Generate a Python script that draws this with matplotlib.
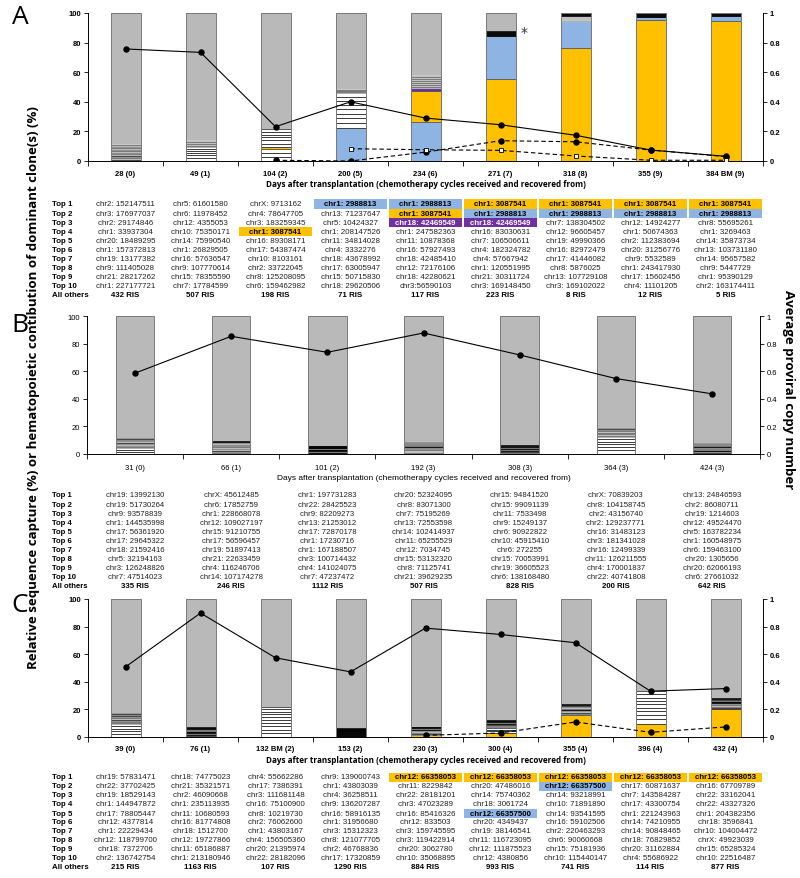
import numpy as np
import matplotlib
matplotlib.use("Agg")
import matplotlib.pyplot as plt
from matplotlib.transforms import blended_transform_factory
from matplotlib.patches import Rectangle

# ---------------- data: panel A ----------------
A_days = ["28 (0)", "49 (1)", "104 (2)", "200 (5)", "234 (6)", "271 (7)", "318 (8)", "355 (9)", "384 BM (9)"]
# top-10 clone contributions (%), bottom (top 1) to top (top 10)
A_seg = [
    [1.5, 1.3, 1.2, 1.1, 1.1, 1.0, 1.0, 1.0, 1.0, 1.0],
    [2.0, 1.8, 1.6, 1.5, 1.4, 1.3, 1.3, 1.2, 1.2, 1.1],
    [3.0, 2.6, 2.4, 1.6, 2.2, 2.1, 2.0, 1.9, 1.9, 1.8],
    [22.2, 3.4, 3.2, 3.1, 3.0, 2.9, 2.8, 2.8, 2.7, 2.7],
    [26.3, 20.9, 2.2, 1.5, 1.4, 1.3, 1.2, 1.2, 1.1, 1.1],
    [55.5, 29.2, 2.9, 0, 0, 0, 0, 0, 0, 0],
    [76.6, 18.2, 0.6, 0.5, 0.5, 0.5, 0.5, 0.4, 0.4, 1.8],
    [95.3, 2.2, 0, 0, 0, 0, 0, 0, 0, 2.5],
    [94.4, 3.8, 0, 0, 0, 0, 0, 0, 0, 1.8],
]
A_code = ["dgdgdgdgdg", "wwwwwwgggg", "wwwywwwwww", "bwwwwwwwwg", "bypggggggg",
          "ybkggggggg", "ybgggggggk", "ybgggggggk", "ybgggggggk"]
A_vcn = [0.757, 0.734, 0.232, 0.40, 0.29, 0.245, 0.174, 0.074, 0.032]
A_dash_dot = [np.nan, np.nan, 0.005, 0.0, 0.06, 0.137, 0.13, 0.074, 0.03]
A_dash_sq = [np.nan, np.nan, np.nan, 0.083, 0.076, 0.072, 0.034, 0.005, 0.005]
A_tab = [
    ["chr2: 152147511", "chr3: 176977037", "chr2: 29174846", "chr1: 33937304", "chr20: 18489295",
     "chr1: 157372813", "chr19: 13177382", "chr9: 111405028", "chr21: 28217262", "chr1: 227177721"],
    ["chr5: 61601580", "chr6: 11978452", "chr12: 4355053", "chr10: 75350171", "chr14: 75990540",
     "chr1: 26829505", "chr16: 57636547", "chr9: 107770614", "chr15: 78355590", "chr7: 17784599"],
    ["chrX: 9713162", "chr4: 78647705", "chr3: 183259345", "chr1: 3087541", "chr16: 89308171",
     "chr17: 54387474", "chr10: 8103161", "chr2: 33722045", "chr8: 125208095", "chr6: 159462982"],
    ["chr1: 2988813", "chr13: 71237647", "chr5: 10424327", "chr1: 208147526", "chr11: 34814028",
     "chr4: 3332276", "chr18: 43678992", "chr17: 63005947", "chr15: 50715830", "chr18: 29620506"],
    ["chr1: 2988813", "chr1: 3087541", "chr18: 42469549", "chr1: 247582363", "chr11: 10878368",
     "chr16: 57927493", "chr18: 42485410", "chr12: 72176106", "chr18: 42280621", "chr3:56590103"],
    ["chr1: 3087541", "chr1: 2988813", "chr18: 42469549", "chr16: 83030631", "chr7: 106506611",
     "chr4: 182324782", "chr4: 57667942", "chr1: 120551995", "chr21: 30311724", "chr3: 169148450"],
    ["chr1: 3087541", "chr1: 2988813", "chr7: 138304502", "chr12: 96605457", "chr19: 49990366",
     "chr16: 82972479", "chr17: 41446082", "chr8: 5876025", "chr13: 107729108", "chr3: 169102022"],
    ["chr1: 3087541", "chr1: 2988813", "chr12: 14924277", "chr1: 50674363", "chr2: 112383694",
     "chr20: 31256776", "chr9: 5532589", "chr1: 243417930", "chr17: 15602456", "chr4: 11101205"],
    ["chr1: 3087541", "chr1: 2988813", "chr8: 55695261", "chr1: 3269463", "chr14: 35873734",
     "chr13: 103731180", "chr14: 95657582", "chr9: 5447729", "chr1: 95390129", "chr2: 163174411"],
]
A_others = ["432 RIS", "507 RIS", "198 RIS", "71 RIS", "117 RIS", "223 RIS", "8 RIS", "12 RIS", "5 RIS"]
A_hl = {(0, 3): "b", (0, 4): "b", (0, 5): "y", (0, 6): "y", (0, 7): "y", (0, 8): "y",
        (1, 4): "y", (1, 5): "b", (1, 6): "b", (1, 7): "b", (1, 8): "b",
        (2, 4): "p", (2, 5): "p", (3, 2): "y"}

# ---------------- data: panel B ----------------
B_days = ["31 (0)", "66 (1)", "101 (2)", "192 (3)", "308 (3)", "364 (3)", "424 (3)"]
B_seg = [
    [1.6, 1.4, 1.3, 1.2, 1.1, 1.0, 1.0, 0.9, 0.9, 0.9],
    [1.4, 1.2, 1.1, 1.0, 0.9, 0.8, 0.8, 0.8, 0.7, 0.7],
    [1.0, 0.8, 0.7, 0.6, 0.6, 0.5, 0.5, 0.5, 0.4, 0.4],
    [1.3, 1.1, 1.0, 0.9, 0.8, 0.8, 0.7, 0.6, 0.6, 0.6],
    [1.0, 0.9, 0.8, 0.7, 0.6, 0.6, 0.5, 0.5, 0.5, 0.4],
    [2.6, 2.3, 2.1, 1.9, 1.8, 1.7, 1.7, 1.6, 1.6, 1.5],
    [1.2, 1.0, 0.9, 0.8, 0.8, 0.7, 0.6, 0.6, 0.6, 0.5],
]
B_code = ["wwwgdgdgdd", "gdgdgddgdk", "dkdkkdkkkk", "gggddkdddd", "kdkdkkdkdk",
          "wwwwwwgggd", "ddkdddkddd"]
B_vcn = [0.586, 0.853, 0.737, 0.877, 0.718, 0.547, 0.436]
B_tab = [
    ["chr19: 13992130", "chr19: 51730264", "chr9: 93578839", "chr1: 144535998", "chr17: 56361920",
     "chr17: 29645322", "chr18: 21592416", "chr5: 32194163", "chr3: 126248826", "chr7: 47514023"],
    ["chrX: 45612485", "chr6: 17852759", "chr1: 228668078", "chr12: 109027197", "chr15: 91210755",
     "chr17: 56596457", "chr19: 51897413", "chr21: 22633459", "chr4: 116246706", "chr14: 107174278"],
    ["chr1: 197731283", "chr22: 28425523", "chr9: 82209273", "chr13: 21253012", "chr17: 72870178",
     "chr1: 17230716", "chr1: 167188507", "chr3: 100714432", "chr4: 141024075", "chr7: 47237472"],
    ["chr20: 52324095", "chr8: 83071300", "chr7: 75195269", "chr13: 72553598", "chr14: 102414937",
     "chr11: 65255529", "chr12: 7034745", "chr15: 53132320", "chr8: 71125741", "chr21: 39629235"],
    ["chr15: 94841520", "chr15: 99091139", "chr11: 7533498", "chr9: 15249137", "chr6: 90922822",
     "chr10: 45915410", "chr6: 272255", "chr15: 70053991", "chr19: 36605523", "chr6: 138168480"],
    ["chrX: 70839203", "chr8: 104158745", "chr2: 43156740", "chr2: 129237771", "chr16: 31483123",
     "chr3: 181341028", "chr16: 12499339", "chr11: 126211555", "chr4: 170001837", "chr22: 40741808"],
    ["chr13: 24846593", "chr2: 86080711", "chr19: 1214603", "chr12: 49524470", "chr5: 163782234",
     "chr1: 160548975", "chr6: 159463100", "chr20: 1305656", "chr20: 62066193", "chr6: 27661032"],
]
B_others = ["335 RIS", "246 RIS", "1112 RIS", "507 RIS", "828 RIS", "200 RIS", "642 RIS"]

# ---------------- data: panel C ----------------
C_days = ["39 (0)", "76 (1)", "132 BM (2)", "153 (2)", "230 (3)", "300 (4)", "355 (4)", "396 (4)", "432 (4)"]
C_seg = [
    [2.2, 2.0, 1.9, 1.8, 1.8, 1.6, 1.6, 1.5, 1.4, 1.4],
    [1.1, 0.9, 0.8, 0.7, 0.7, 0.6, 0.6, 0.6, 0.5, 0.5],
    [2.8, 2.6, 2.4, 2.3, 2.2, 2.1, 2.0, 1.9, 1.9, 1.8],
    [1.0, 0.9, 0.8, 0.7, 0.6, 0.6, 0.5, 0.4, 0.4, 0.4],
    [1.2, 1.0, 0.9, 0.8, 0.8, 0.7, 0.6, 0.6, 0.5, 0.4],
    [3.1, 1.2, 1.1, 1.0, 0.8, 1.0, 1.0, 1.0, 0.9, 1.0],
    [15.7, 1.2, 1.0, 0.9, 0.9, 0.8, 0.8, 0.8, 0.8, 0.8],
    [9.7, 3.2, 2.9, 2.7, 2.6, 2.5, 2.5, 2.4, 2.3, 2.6],
    [20.1, 0.9, 1.0, 0.8, 0.8, 0.9, 1.0, 0.8, 0.9, 0.8],
]
C_code = ["wwwwwgdgdd", "dkdkkdkdkk", "wwwwwwwwww", "kkkkkkkkkk", "ydwdgdkdkk",
          "ywwwbddkdk", "ybdgdkdgdk", "ywwwwwwwww", "ywwdgdkkdk"]
C_vcn = [0.508, 0.898, 0.574, 0.472, 0.789, 0.743, 0.683, 0.332, 0.351]
C_dash_dot = [np.nan, np.nan, np.nan, np.nan, 0.012, 0.029, 0.109, 0.034, 0.073]
C_tab = [
    ["chr19: 57831471", "chr22: 37702425", "chr19: 18529143", "chr1: 144947872", "chr17: 78805447",
     "chr12: 4377814", "chr1: 22229434", "chr12: 118799700", "chr18: 7372706", "chr2: 136742754"],
    ["chr18: 74775023", "chr21: 35321571", "chr2: 46090668", "chr1: 235113935", "chr11: 10680593",
     "chr16: 81774808", "chr18: 1512700", "chr12: 19727866", "chr11: 65186887", "chr1: 213180946"],
    ["chr4: 55662286", "chr17: 7386391", "chr3: 111681148", "chr16: 75100900", "chr8: 10219730",
     "chr2: 76062600", "chr1: 43803167", "chr4: 156505360", "chr20: 21395974", "chr22: 28182096"],
    ["chr9: 139000743", "chr1: 43803039", "chr4: 36258511", "chr9: 136207287", "chr16: 58916135",
     "chr1: 31956680", "chr3: 15312323", "chr8: 121077705", "chr2: 46768836", "chr17: 17320859"],
    ["chr12: 66358053", "chr11: 8229842", "chr22: 28181201", "chr3: 47023289", "chr16: 85416326",
     "chr12: 833503", "chr3: 159745595", "chr3: 119422914", "chr20: 3062780", "chr10: 35068895"],
    ["chr12: 66358053", "chr20: 47486016", "chr14: 75740362", "chr18: 3061724", "chr12: 66357500",
     "chr20: 4349437", "chr19: 38146541", "chr11: 116723095", "chr12: 111875523", "chr12: 4380856"],
    ["chr12: 66358053", "chr12: 66357500", "chr14: 93218991", "chr10: 71891890", "chr14: 93541595",
     "chr16: 59102506", "chr2: 220463293", "chr6: 90060668", "chr15: 75181936", "chr10: 115440147"],
    ["chr12: 66358053", "chr17: 60871637", "chr7: 143584287", "chr17: 43300754", "chr1: 221243963",
     "chr14: 74210955", "chr14: 90848465", "chr18: 76829852", "chr20: 31162884", "chr4: 55686922"],
    ["chr12: 66358053", "chr16: 67709789", "chr22: 33162041", "chr22: 43327326", "chr1: 204382356",
     "chr18: 3596841", "chr10: 104004472", "chrX: 49923039", "chr15: 65285324", "chr10: 22516487"],
]
C_others = ["215 RIS", "1163 RIS", "107 RIS", "1290 RIS", "884 RIS", "993 RIS", "741 RIS", "114 RIS", "877 RIS"]
C_hl = {(0, 4): "y", (0, 5): "y", (0, 6): "y", (0, 7): "y", (0, 8): "y", (4, 5): "b", (1, 6): "b"}

ROW_NAMES = ["Top 1", "Top 2", "Top 3", "Top 4", "Top 5", "Top 6", "Top 7", "Top 8", "Top 9", "Top 10", "All others"]
XLABEL = "Days after transplantation (chemotherapy cycles received and recovered from)"

# ---------------- style ----------------
FILL = {"w": "white", "g": "#7a7a7a", "d": "#484848", "k": "#0a0a0a",
        "y": "#ffc000", "b": "#8db4e2", "p": "#7030a0"}
EDGE = {"w": "#111111", "g": "#d0d0d0", "d": "#959595", "k": "#000000",
        "y": "#505050", "b": "#505050", "p": "#505050"}
OTHERS = "#b9b9b9"
ARIAL = ["Liberation Sans", "DejaVu Sans"]
TITLEF = ["Open Sans", "DejaVu Sans"]

W, H = 800, 879
fig = plt.figure(figsize=(W / 100, H / 100), dpi=100)


def fy(py):
    return 1 - py / H


def panel(x0, x1, y0, y1, segs, codes, days, bold, tick_y, xlab_y, xlab_font, xlab_size):
    ax = fig.add_axes([x0 / W, fy(y1), (x1 - x0) / W, (y1 - y0) / H])
    wt = "bold" if bold else "normal"
    n = len(segs)
    for i in range(n):
        b = 0.0
        for h, c in zip(segs[i], codes[i]):
            if h > 0:
                ax.bar(i, h, bottom=b, width=0.4, color=FILL[c], edgecolor=EDGE[c], linewidth=0.5, zorder=2)
            b += h
        if b < 100:
            ax.bar(i, 100 - b, bottom=b, width=0.4, color=OTHERS, edgecolor="none", zorder=2)
        ax.bar(i, 100, width=0.4, fill=False, edgecolor="#7a7a7a", linewidth=0.7, zorder=3)
    ax.set_xlim(-0.5, n - 0.5)
    ax.set_ylim(0, 100)
    ax.set_yticks([0, 20, 40, 60, 80, 100])
    ax.set_yticklabels(["0", "20", "40", "60", "80", "100"], fontsize=5.5, fontweight=wt, family=ARIAL)
    ax.set_xticks([])
    ax.set_xticks(np.arange(n + 1) - 0.5, minor=True)
    ax.tick_params(axis="x", which="minor", length=3.5, width=0.6)
    ax.tick_params(axis="y", length=3, width=0.6, pad=2)
    for s in ["top", "right"]:
        ax.spines[s].set_visible(False)
    ax.spines["left"].set_linewidth(0.7)
    ax.spines["bottom"].set_linewidth(0.7)
    tr = blended_transform_factory(ax.transData, fig.transFigure)
    for i, d in enumerate(days):
        ax.text(i, fy(tick_y), d, transform=tr, ha="center", va="center", fontsize=5.5,
                fontweight=wt, family=ARIAL)
    ax.text((n - 1) / 2, fy(xlab_y), XLABEL, transform=tr, ha="center", va="center",
            fontsize=xlab_size, fontweight=wt, family=xlab_font)
    ax2 = ax.twinx()
    ax2.set_ylim(0, 1)
    ax2.set_yticks([0, 0.2, 0.4, 0.6, 0.8, 1])
    ax2.set_yticklabels(["0", "0.2", "0.4", "0.6", "0.8", "1"], fontsize=5.5, fontweight=wt, family=ARIAL)
    ax2.tick_params(axis="y", length=3, width=0.6, pad=2)
    for s in ["top", "left", "bottom"]:
        ax2.spines[s].set_visible(False)
    ax2.spines["right"].set_linewidth(0.7)
    return ax, ax2, tr


def table(ax, tr, cols, others, hl, y_top, step, size, label_x):
    for r, name in enumerate(ROW_NAMES):
        fig.text(label_x / W, fy(y_top + r * step), name, ha="left", va="center",
                 fontsize=size, fontweight="bold", family=ARIAL)
    for c, col in enumerate(cols):
        for r, s in enumerate(col):
            y = y_top + r * step
            code = hl.get((r, c))
            if code:
                ax.add_patch(Rectangle((c - 0.49, fy(y + step / 2)), 0.98, step / H,
                                       transform=tr, facecolor=FILL[code], edgecolor="none",
                                       clip_on=False, zorder=0))
                ax.text(c, fy(y), s, transform=tr, ha="center", va="center", fontsize=size,
                        fontweight="bold", color="white" if code == "p" else "black",
                        family=ARIAL, clip_on=False)
            else:
                ax.text(c, fy(y), s, transform=tr, ha="center", va="center", fontsize=size,
                        color="#222222", family=ARIAL, clip_on=False)
        ax.text(c, fy(y_top + 10 * step), others[c], transform=tr, ha="center", va="center",
                fontsize=size, fontweight="bold", family=ARIAL, clip_on=False)


# ---- panel A ----
axA, axA2, trA = panel(88, 763, 14, 162, A_seg, A_code, A_days, True, 174, 184.5, TITLEF, 5.9)
xA = np.arange(len(A_days))
axA2.plot(xA, A_vcn, color="black", lw=0.8, marker="o", ms=3.6, zorder=5)
axA2.plot(xA, A_dash_dot, color="black", lw=0.8, ls=(0, (4, 2.5)), marker="o", ms=3.6, zorder=5)
axA2.plot(xA, A_dash_sq, color="black", lw=0.8, ls=(0, (4, 2.5)), marker="s", ms=3.4,
          mfc="white", mec="black", mew=0.6, zorder=5)
axA.text(5.27, 87.5, "*", fontsize=10, ha="left", va="center", color="#333333")

# ---- panel B ----
axB, axB2, trB = panel(87, 760, 317, 455, B_seg, B_code, B_days, False, 468, 478.5, ARIAL, 6.0)
xB = np.arange(len(B_days))
axB2.plot(xB, B_vcn, color="black", lw=0.8, marker="o", ms=3.6, zorder=5)

# ---- panel C ----
axC, axC2, trC = panel(88, 763, 600, 738, C_seg, C_code, C_days, True, 749.5, 760.5, TITLEF, 5.9)
xC = np.arange(len(C_days))
axC2.plot(xC, C_vcn, color="black", lw=0.8, marker="o", ms=3.6, zorder=5)
axC2.plot(xC, C_dash_dot, color="black", lw=0.8, ls=(0, (4, 2.5)), marker="o", ms=3.6, zorder=5)

# ---- tables ----
table(axA, trA, A_tab, A_others, A_hl, 205, 9.1, 5.7, 52)
table(axB, trB, B_tab, B_others, {}, 496, 9.1, 5.6, 52)
table(axC, trC, C_tab, C_others, C_hl, 778, 9.0, 5.7, 52)

# ---- shared labels ----
fig.text(34 / W, fy(388), "Relative sequence capture (%) or hematopoietic contibution of dominant clone(s) (%)",
         rotation=90, ha="center", va="center", fontsize=9.5, fontweight="bold", family=TITLEF)
fig.text(788 / W, fy(390), "Average proviral copy number", rotation=270, ha="center", va="center",
         fontsize=9.5, fontweight="bold", family=TITLEF)
for lab, y in [("A", 17), ("B", 326), ("C", 606)]:
    fig.text(20 / W, fy(y), lab, ha="center", va="center", fontsize=19, family=TITLEF)

fig.savefig("out.png", dpi=100)
